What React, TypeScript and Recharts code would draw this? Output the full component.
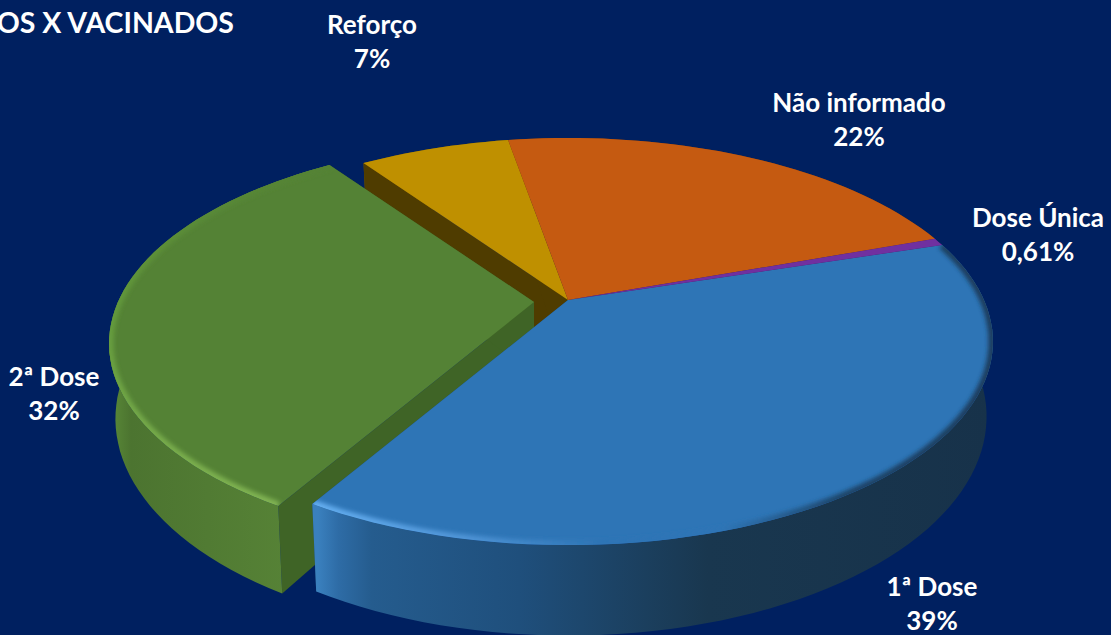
import React from "react";
import { PieChart, Pie } from "recharts";

const categories = ["1ª Dose", "2ª Dose", "Reforço", "Não informado", "Dose Única"];
// underlying shares, they round to the printed labels
const percents = [38.5, 32, 7, 22.45, 0.61];
const percentLabels = ["39%", "32%", "7%", "22%", "0,61%"];
const colors = ["#2E75B6", "#548235", "#BF9000", "#C55A11", "#7030A0"];
const radialWallColors = ["#1D4A73", "#3F6426", "#4F3C00", "#6B3008", "#3D1A58"];
const outerWallColors = ["url(#blueWall)", "url(#greenWall)", "#7A5C00", "#7E3A0B", "#481F68"];

const data = categories.map((name, i) => ({ name, value: percents[i] }));

const W = 1111;
const H = 635;
const TILT = 0.204;
const SQUASH = 0.469;
const DEPTH = 72;
const BASE_SCALE = 0.985;

// exploded slice
const offsets: Record<string, [number, number]> = { "2ª Dose": [-34, 2] };

// label centres [x, first baseline]
const labelPos = [
  [932, 596],
  [54, 386],
  [372, 34],
  [859, 112],
  [1038, 227],
];

type Pt = { x: number; y: number; w: number };

function project(cx: number, cy: number, r: number, deg: number): Pt {
  const a = (deg * Math.PI) / 180;
  const u = Math.cos(a);
  const v = Math.sin(a);
  const w = 1 + TILT * v;
  return { x: cx + (r * u) / w, y: cy - (r * SQUASH * v) / w, w };
}

function arcPoints(p: any): Pt[] {
  const [dx, dy] = offsets[p.name] || [0, 0];
  const cx = p.cx + dx;
  const cy = p.cy + dy;
  const n = Math.max(2, Math.ceil(Math.abs(p.endAngle - p.startAngle) / 2));
  const pts: Pt[] = [];
  for (let i = 0; i <= n; i++) {
    pts.push(project(cx, cy, p.outerRadius, p.startAngle + ((p.endAngle - p.startAngle) * i) / n));
  }
  return pts;
}

const line = (pts: number[][]) =>
  pts.map((q, i) => `${i ? "L" : "M"}${q[0].toFixed(1)} ${q[1].toFixed(1)}`).join(" ");

function tipOf(p: any) {
  const [dx, dy] = offsets[p.name] || [0, 0];
  return { x: p.cx + dx, y: p.cy + dy };
}

// side walls, only for the named slices so the paint order stays back to front
const wallShape = (names: string[], outerOnTop = true) => (p: any) => {
  if (!names.includes(p.name)) return <g />;
  const idx = categories.indexOf(p.name);
  const tip = tipOf(p);
  const arc = arcPoints(p);
  const low = (q: Pt) => [tip.x + (q.x - tip.x) * BASE_SCALE, q.y + DEPTH / q.w];
  const tipLow = [tip.x, tip.y + DEPTH];
  const first = arc[0];
  const last = arc[arc.length - 1];
  const outerPts = [...arc.map((q) => [q.x, q.y]), ...arc.slice().reverse().map(low)];
  const outer = <path d={line(outerPts) + " Z"} fill={outerWallColors[idx]} />;
  return (
    <g>
      {!outerOnTop && outer}
      <path d={line([[tip.x, tip.y], [first.x, first.y], low(first), tipLow]) + " Z"} fill={radialWallColors[idx]} />
      <path d={line([[tip.x, tip.y], [last.x, last.y], low(last), tipLow]) + " Z"} fill={radialWallColors[idx]} />
      {outerOnTop && outer}
    </g>
  );
};

const rimStroke: Record<string, string> = {
  "1ª Dose": "url(#blueRim)",
  "2ª Dose": "url(#greenRim)",
};

const topShape = (p: any) => {
  const tip = tipOf(p);
  const arc = arcPoints(p).map((q) => [q.x, q.y]);
  const d = line([[tip.x, tip.y], ...arc]) + " Z";
  const stroke = rimStroke[p.name];
  const clipId = `top-${p.index}`;
  return (
    <g>
      <path d={d} fill={p.fill} />
      {stroke && (
        <>
          <clipPath id={clipId}>
            <path d={d} />
          </clipPath>
          <g clipPath={`url(#${clipId})`}>
            <path d={line(arc)} fill="none" stroke={stroke} strokeWidth={9} filter="url(#soft)" />
          </g>
        </>
      )}
    </g>
  );
};

const renderLabel = (p: any) => {
  const [x, y] = labelPos[p.index];
  return (
    <text x={x} y={y} textAnchor="middle" fill="#FFFFFF" fontFamily="Lato" fontWeight={700} fontSize={26}>
      <tspan x={x}>{categories[p.index]}</tspan>
      <tspan x={x} dy={34}>{percentLabels[p.index]}</tspan>
    </text>
  );
};

const pieProps = {
  data,
  dataKey: "value",
  nameKey: "name",
  cx: 568,
  cy: 300,
  outerRadius: 416,
  startAngle: 17.4,
  endAngle: -342.6,
  stroke: "none",
  isAnimationActive: false,
  rootTabIndex: -1,
};

export default function App() {
  const coloured = categories.map((name, i) => ({ name, value: percents[i], fill: colors[i] }));
  return (
    <div style={{ position: "fixed", left: 0, top: 0, width: W, height: H, overflow: "hidden", background: "#002060" }}>
      <PieChart width={W} height={H} margin={{ top: 0, right: 0, bottom: 0, left: 0 }}>
        <defs>
          <linearGradient id="blueWall" gradientUnits="userSpaceOnUse" x1="318" y1="0" x2="990" y2="0">
            <stop offset="0%" stopColor="#3A80BE" />
            <stop offset="3%" stopColor="#2E6CA6" />
            <stop offset="8%" stopColor="#255C8E" />
            <stop offset="30%" stopColor="#1F4F7C" />
            <stop offset="58%" stopColor="#19374F" />
            <stop offset="100%" stopColor="#17324A" />
          </linearGradient>
          <linearGradient id="greenWall" gradientUnits="userSpaceOnUse" x1="110" y1="0" x2="285" y2="0">
            <stop offset="0%" stopColor="#5A8A38" />
            <stop offset="12%" stopColor="#4C7430" />
            <stop offset="100%" stopColor="#568236" />
          </linearGradient>
          <linearGradient id="blueRim" gradientUnits="userSpaceOnUse" x1="314" y1="0" x2="993" y2="0">
            <stop offset="0%" stopColor="#64AEF0" />
            <stop offset="22%" stopColor="#4F94D6" />
            <stop offset="42%" stopColor="#2E75B6" />
            <stop offset="60%" stopColor="#2E75B6" />
            <stop offset="78%" stopColor="#1D4468" />
            <stop offset="100%" stopColor="#1D3D5E" />
          </linearGradient>
          <linearGradient id="greenRim" gradientUnits="userSpaceOnUse" x1="0" y1="165" x2="0" y2="500">
            <stop offset="0%" stopColor="#548235" />
            <stop offset="45%" stopColor="#639A3C" />
            <stop offset="100%" stopColor="#80B352" />
          </linearGradient>
          <filter id="soft" x="-5%" y="-5%" width="110%" height="110%">
            <feGaussianBlur stdDeviation="2.2" />
          </filter>
        </defs>
        <Pie {...pieProps} shape={wallShape(["Não informado", "Dose Única"])} />
        <Pie {...pieProps} shape={wallShape(["Reforço"], false)} />
        <Pie {...pieProps} shape={wallShape(["2ª Dose"])} />
        <Pie {...pieProps} shape={wallShape(["1ª Dose"])} />
        <Pie {...pieProps} data={coloured} shape={topShape} label={renderLabel} labelLine={false} />
      </PieChart>
      <div
        style={{
          position: "absolute",
          right: W - 234,
          top: 3,
          whiteSpace: "nowrap",
          color: "#FFFFFF",
          fontFamily: "Lato",
          fontWeight: 700,
          fontSize: 28.5,
          lineHeight: "38px",
        }}
      >
        OS X VACINADOS
      </div>
    </div>
  );
}
